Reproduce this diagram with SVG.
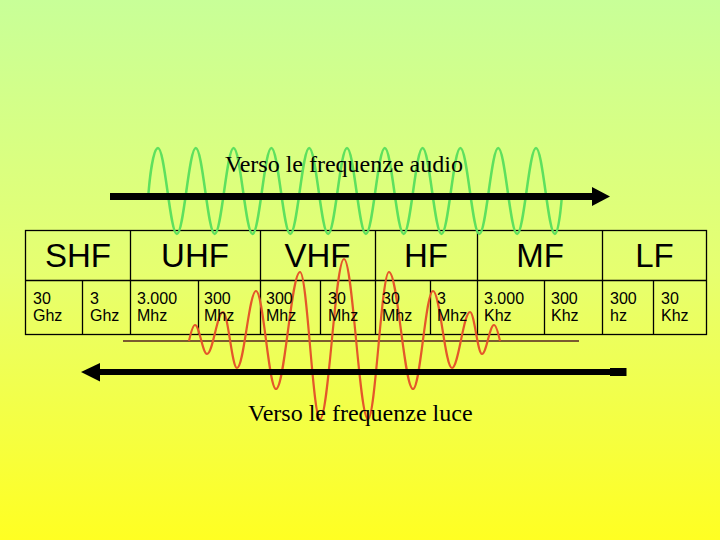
<svg xmlns="http://www.w3.org/2000/svg" width="720" height="540" viewBox="0 0 720 540">
<defs>
<linearGradient id="bg" x1="0" y1="0" x2="0" y2="1">
<stop offset="0" stop-color="#c8ff98"/>
<stop offset="0.5" stop-color="#e6ff70"/>
<stop offset="1" stop-color="#ffff22"/>
</linearGradient>
<style>
.grid{stroke:#000;stroke-width:1.3;fill:none}
.band{font-family:"Liberation Sans",Arial,sans-serif;font-size:33px;fill:#000;text-anchor:middle}
.val{font-family:"Liberation Sans",Arial,sans-serif;font-size:16px;fill:#000}
.cap{font-family:"Liberation Serif","Times New Roman",serif;font-size:24px;fill:#000}
.green{fill:none;stroke:#5ee05e;stroke-width:2.5}
.red{fill:none;stroke:#e4572a;stroke-width:2.2}
.bar{stroke:#000;fill:none}
</style>
</defs>
<rect x="0" y="0" width="720" height="540" fill="url(#bg)"/>

<g id="table">
<rect class="grid" x="25.5" y="230.5" width="681" height="104"/>
<line class="grid" x1="25.5" y1="280.5" x2="706.5" y2="280.5"/>
<path class="grid" d="M130.5,230.5V334.5 M260.5,230.5V334.5 M375.5,230.5V334.5 M477.5,230.5V334.5 M602.5,230.5V334.5 M82.5,280.5V334.5 M198.5,280.5V334.5 M320.5,280.5V334.5 M430.5,280.5V334.5 M544.5,280.5V334.5 M653.5,280.5V334.5"/>
</g>

<line id="axis" x1="123" y1="341" x2="579" y2="341" stroke="#7a5a30" stroke-width="2"/>

<g id="green-wave">
<path class="green" d="M148.5,193 C150,175 153.5,148 158,148 C164.9,148 170,234 176.9,234 C183.8,234 188.9,148 195.8,148 C202.7,148 207.8,234 214.7,234 C221.6,234 226.7,148 233.6,148 C240.5,148 245.6,234 252.5,234 C259.4,234 264.5,148 271.4,148 C278.3,148 283.4,234 290.3,234 C297.2,234 302.3,148 309.2,148 C316.1,148 321.2,234 328.1,234 C335,234 340.1,148 347,148 C353.9,148 359,234 365.9,234 C372.8,234 377.9,148 384.8,148 C391.7,148 396.8,234 403.7,234 C410.6,234 415.7,148 422.6,148 C429.5,148 434.6,234 441.5,234 C448.4,234 453.5,148 460.4,148 C467.3,148 472.4,234 479.3,234 C486.2,234 491.3,148 498.2,148 C505.1,148 510.2,234 517.1,234 C524,234 529.1,148 536,148 C542.9,148 548,234 554.9,234 C557.9,234 560.5,214 562,195"/>
</g>

<g id="red-wave">
<path class="red" d="M189,341 C191,332 193,325 195,325 C199.4,325 202.6,354 207,354 C212.8,354 217.2,312 223,312 C228.1,312 231.9,368 237,368 C243.9,368 249.1,291 256,291 C263.3,291 268.7,389 276,389 C284.7,389 291.3,272 300,272 C307.3,272 312.7,419 320,419 C328.7,419 335.3,259 344,259 C352.7,259 359.3,419 368,419 C375.6,419 381.4,272 389,272 C397.7,272 404.3,389 413,389 C420.3,389 425.7,291 433,291 C439.9,291 445.1,368 452,368 C458.5,368 463.5,312 470,312 C474.4,312 477.6,354 482,354 C486.4,354 489.6,325 494,325 C496,325 498,332 500,341"/>
</g>

<g id="connectors">
<g id="arrow-audio">
<line class="bar" x1="110" y1="196.5" x2="593" y2="196.5" stroke-width="7"/>
<polygon points="592,187 610,196.5 592,206" fill="#000"/>
</g>
<g id="arrow-luce">
<line class="bar" x1="99" y1="372" x2="611" y2="372" stroke-width="6"/>
<rect x="610" y="368" width="16.5" height="8" fill="#000"/>
<polygon points="100,363 81,372 100,381.5" fill="#000"/>
</g>
</g>

<g id="labels">
<text class="cap" x="225" y="172">Verso le frequenze audio</text>
<text class="cap" x="248" y="421">Verso le frequenze luce</text>
</g>

<g id="bands">
<text class="band" x="78" y="267">SHF</text>
<text class="band" x="195" y="267">UHF</text>
<text class="band" x="317.5" y="267">VHF</text>
<text class="band" x="426" y="267">HF</text>
<text class="band" x="540" y="267">MF</text>
<text class="band" x="654.5" y="267">LF</text>
</g>

<g id="values">
<text class="val" x="33" y="304">30<tspan x="33" y="321">Ghz</tspan></text>
<text class="val" x="90" y="304">3<tspan x="90" y="321">Ghz</tspan></text>
<text class="val" x="137" y="304">3.000<tspan x="137" y="321">Mhz</tspan></text>
<text class="val" x="204" y="304">300<tspan x="204" y="321">Mhz</tspan></text>
<text class="val" x="266" y="304">300<tspan x="266" y="321">Mhz</tspan></text>
<text class="val" x="328" y="304">30<tspan x="328" y="321">Mhz</tspan></text>
<text class="val" x="382" y="304">30<tspan x="382" y="321">Mhz</tspan></text>
<text class="val" x="437" y="304">3<tspan x="437" y="321">Mhz</tspan></text>
<text class="val" x="484" y="304">3.000<tspan x="484" y="321">Khz</tspan></text>
<text class="val" x="551" y="304">300<tspan x="551" y="321">Khz</tspan></text>
<text class="val" x="610" y="304">300<tspan x="610" y="321">hz</tspan></text>
<text class="val" x="661" y="304">30<tspan x="661" y="321">Khz</tspan></text>
</g>
</svg>
